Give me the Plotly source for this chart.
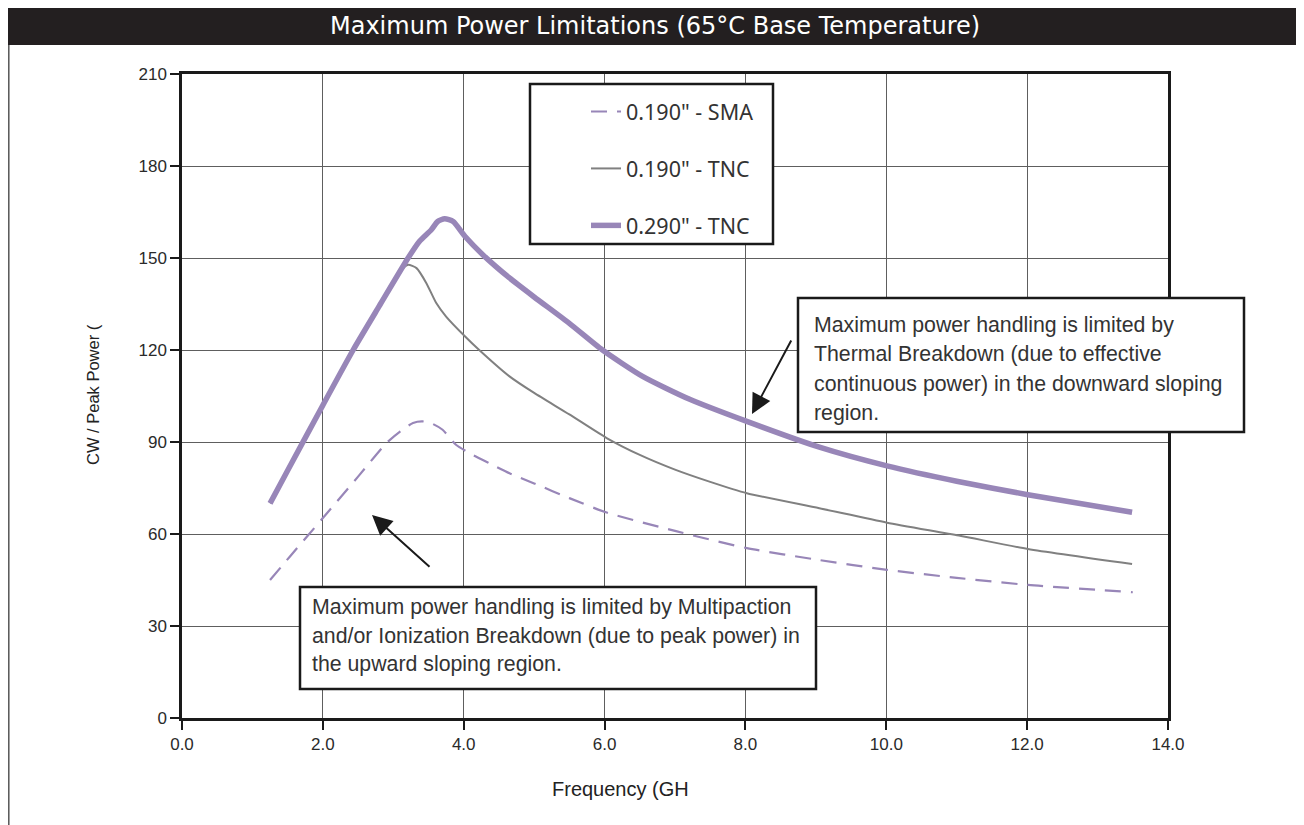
import plotly.graph_objects as go

# ---------------- data ----------------
series_names = ['0.190" - SMA', '0.190" - TNC', '0.290" - TNC']

sma_x = [1.25, 1.53, 2.0, 2.5, 2.9, 3.1, 3.28, 3.42, 3.55, 3.70, 3.89, 4.13, 4.36, 4.65,
         5.0, 5.5, 6.03, 7.0, 8.02, 9.05, 10.01, 11.0, 12.01, 13.5]
sma_y = [45.0, 52.6, 65.2, 78.7, 89.6, 93.5, 96.2, 96.7, 96.0, 94.0, 89.1, 85.8, 83.1, 79.8,
         76.5, 71.7, 67.0, 61.0, 55.4, 51.5, 48.3, 45.7, 43.4, 41.0]

tnc190_x = [1.25, 1.5, 2.0, 2.43, 2.8, 3.12, 3.21, 3.33, 3.47, 3.61, 3.75, 4.02, 4.22, 4.65,
            5.0, 5.5, 6.03, 6.5, 7.0, 7.5, 8.02, 9.05, 10.01, 11.03, 12.01, 13.49]
tnc190_y = [70.0, 80.7, 102.0, 120.0, 134.3, 146.2, 147.8, 146.7, 141.8, 135.3, 130.9, 124.4, 120.0, 111.4,
            106.0, 99.0, 91.3, 85.8, 81.0, 77.0, 73.3, 68.4, 63.7, 59.5, 55.1, 50.2]

tnc290_x = [1.25, 1.5, 2.0, 2.43, 2.8, 3.21, 3.37, 3.54, 3.63, 3.73, 3.85, 4.02, 4.27, 4.65,
            5.0, 5.5, 5.97, 6.54, 7.2, 8.02, 9.05, 10.01, 11.0, 12.01, 13.49]
tnc290_y = [70.0, 80.7, 102.0, 120.0, 134.3, 150.0, 155.4, 159.2, 161.9, 162.8, 161.9, 157.0, 151.1, 143.5,
            137.3, 128.7, 120.0, 111.4, 104.0, 96.7, 88.3, 82.2, 77.2, 72.8, 67.1]

x_ticks = [0, 2, 4, 6, 8, 10, 12, 14]
x_tick_labels = ["0.0", "2.0", "4.0", "6.0", "8.0", "10.0", "12.0", "14.0"]
y_ticks = [0, 30, 60, 90, 120, 150, 180, 210]
y_tick_labels = ["0", "30", "60", "90", "120", "150", "180", "210"]

title_text = "Maximum Power Limitations (65°C Base Temperature)"
x_title = "Frequency (GH"
y_title = "CW / Peak Power ("
note_right = ["Maximum power handling is limited by",
              "Thermal Breakdown (due to effective",
              "continuous power) in the downward sloping",
              "region."]
note_left = ["Maximum power handling is limited by Multipaction",
             "and/or Ionization Breakdown (due to peak power) in",
             "the upward sloping region."]

# ---------------- layout helpers ----------------
W, H = 1304, 825
OFF = 8  # page margin offset of the figure div
L, R, T, B = 182 - OFF, 1168 - OFF, 74 - OFF, 718 - OFF  # plot-area box (figure px)


def px(x):
    """screen x pixel -> paper coordinate"""
    return (x - OFF - L) / (R - L)


def py(y):
    """screen y pixel -> paper coordinate"""
    return (B - (y - OFF)) / (B - T)


PURPLE = "#9886b8"
GRAY = "#808080"
DARK = "#1a1a1a"
TXT = "#333333"

fig = go.Figure()
fig.add_trace(go.Scatter(x=sma_x, y=sma_y, mode="lines", name=series_names[0],
                         legendgroup="a",
                         line=dict(color=PURPLE, width=2.2, dash="16px,10px",
                                   shape="spline", smoothing=0.6)))
fig.add_trace(go.Scatter(x=tnc190_x, y=tnc190_y, mode="lines", name=series_names[1],
                         legendgroup="b",
                         line=dict(color=GRAY, width=2, shape="spline", smoothing=0.6)))
fig.add_trace(go.Scatter(x=tnc290_x, y=tnc290_y, mode="lines", name=series_names[2],
                         legendgroup="c",
                         line=dict(color=PURPLE, width=5.5, shape="spline", smoothing=0.6)))

axis_common = dict(showgrid=True, gridcolor="#5e5e5e", gridwidth=1,
                   showline=True, linecolor=DARK, linewidth=2.5, mirror=True,
                   ticks="outside", ticklen=9, tickwidth=1.5, tickcolor=DARK,
                   tickfont=dict(family="Liberation Sans, Arial", size=17, color="#2a2a2a"),
                   zeroline=False, fixedrange=True)

fig.update_layout(
    width=W, height=H,
    margin=dict(l=L, r=W - R, t=T, b=H - B),
    paper_bgcolor="white", plot_bgcolor="white",
    xaxis=dict(range=[0, 14], tickvals=x_ticks, ticktext=x_tick_labels, **axis_common),
    yaxis=dict(range=[0, 210], tickvals=y_ticks, ticktext=y_tick_labels, **axis_common),
    showlegend=True,
    legend=dict(x=px(586), y=py(91), xanchor="left", yanchor="top",
                bgcolor="rgba(0,0,0,0)", borderwidth=0,
                font=dict(family="Noto Sans", size=21.5, color=TXT),
                traceorder="grouped", tracegroupgap=26),
)

shapes = []
# title bar
shapes.append(dict(type="rect", xref="paper", yref="paper",
                   x0=px(6), x1=px(1300), y0=py(45), y1=py(6),
                   fillcolor="#231f20", line=dict(width=0), layer="above"))
# outer frame sides
for xx in (8.8, 1300):
    shapes.append(dict(type="line", xref="paper", yref="paper",
                       x0=px(xx), x1=px(xx), y0=py(45), y1=py(840),
                       line=dict(color="#555555", width=1.5), layer="above"))
# legend box
shapes.append(dict(type="rect", xref="paper", yref="paper",
                   x0=px(530), x1=px(773), y0=py(244), y1=py(84),
                   fillcolor="white", line=dict(color=DARK, width=2.5), layer="above"))
# note boxes
shapes.append(dict(type="rect", xref="paper", yref="paper",
                   x0=px(798), x1=px(1244), y0=py(432), y1=py(298),
                   fillcolor="white", line=dict(color=DARK, width=2.5), layer="above"))
shapes.append(dict(type="rect", xref="paper", yref="paper",
                   x0=px(300), x1=px(816), y0=py(689), y1=py(587),
                   fillcolor="white", line=dict(color=DARK, width=2.5), layer="above"))
fig.update_layout(shapes=shapes)

ann = []
ann.append(dict(text=title_text, xref="paper", yref="paper", x=px(655), y=py(26),
                xanchor="center", yanchor="middle", showarrow=False,
                font=dict(family="DejaVu Sans", size=24, color="white")))
ann.append(dict(text=x_title, xref="paper", yref="paper", x=px(620), y=py(789),
                xanchor="center", yanchor="middle", showarrow=False,
                font=dict(family="Liberation Sans, Arial", size=20, color="#222")))
ann.append(dict(text=y_title, xref="paper", yref="paper", x=px(93), y=py(395),
                xanchor="center", yanchor="middle", showarrow=False, textangle=-90,
                font=dict(family="Liberation Sans, Arial", size=16.5, color="#222")))
for txt, yy in zip(note_right, [325, 354, 384, 413]):
    ann.append(dict(text=txt, xref="paper", yref="paper", x=px(812), y=py(yy),
                    xanchor="left", yanchor="middle", showarrow=False,
                    font=dict(family="Liberation Sans, Arial", size=21.3, color=TXT)))
for txt, yy in zip(note_left, [607, 636, 664]):
    ann.append(dict(text=txt, xref="paper", yref="paper", x=px(310), y=py(yy),
                    xanchor="left", yanchor="middle", showarrow=False,
                    font=dict(family="Liberation Sans, Arial", size=21.3, color=TXT)))
# arrows
ann.append(dict(text="", xref="paper", yref="paper", x=px(372), y=py(515),
                ax=59, ay=53, showarrow=True, arrowhead=2, arrowsize=2.0,
                arrowwidth=2, arrowcolor=DARK, standoff=0))
ann.append(dict(text="", xref="paper", yref="paper", x=px(752), y=py(414),
                ax=40, ay=-75, showarrow=True, arrowhead=2, arrowsize=2.0,
                arrowwidth=2, arrowcolor=DARK, standoff=0))
fig.update_layout(annotations=ann)

fig.write_html("out.html")
